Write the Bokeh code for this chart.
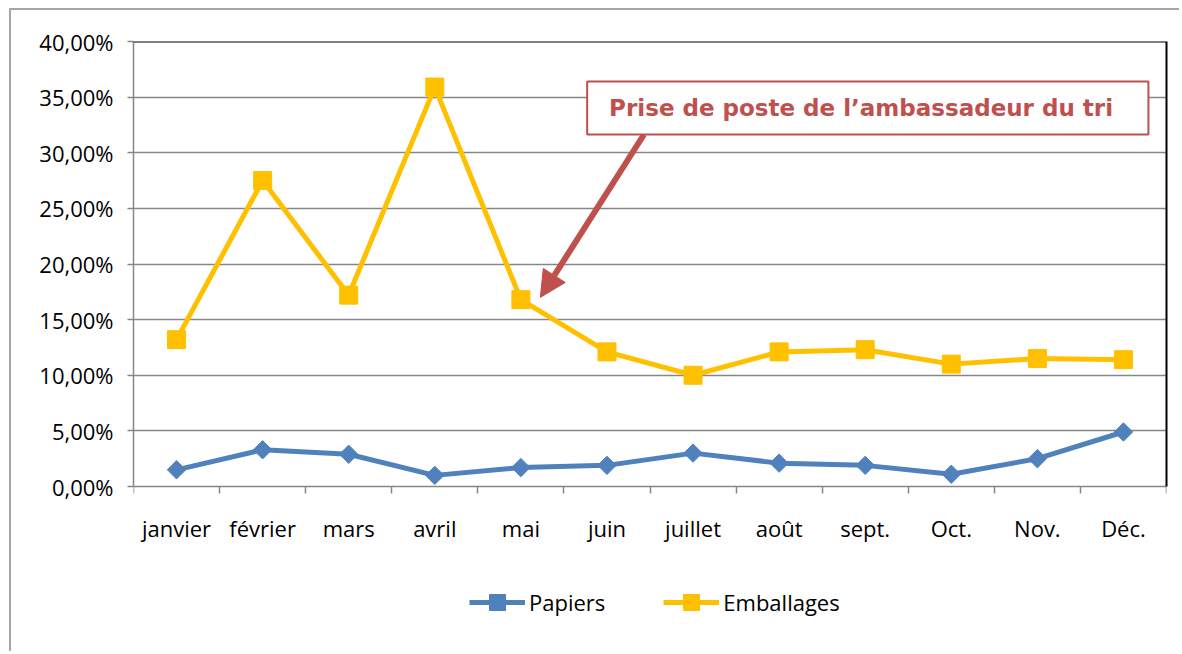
from bokeh.plotting import figure
from bokeh.models import (Range1d, FixedTicker, Span, BoxAnnotation, Label, Arrow,
                          NormalHead, Legend, LegendItem, ColumnDataSource, LinearAxis)
from bokeh.embed import file_html
from bokeh.resources import INLINE

months = ["janvier", "février", "mars", "avril", "mai", "juin", "juillet",
          "août", "sept.", "Oct.", "Nov.", "Déc."]
papiers = [0.015, 0.033, 0.029, 0.010, 0.017, 0.019, 0.030, 0.021, 0.019, 0.011, 0.025, 0.049]
emballages = [0.132, 0.275, 0.172, 0.359, 0.168, 0.121, 0.100, 0.121, 0.123, 0.110, 0.115, 0.114]
y_ticks = [0.0, 0.05, 0.10, 0.15, 0.20, 0.25, 0.30, 0.35, 0.40]
y_tick_labels = ["0,00%", "5,00%", "10,00%", "15,00%", "20,00%", "25,00%",
                 "30,00%", "35,00%", "40,00%"]
annotation_text = "Prise de poste de l\u2019ambassadeur du tri"

BLUE = "#4F81BD"
GOLD = "#FFC000"
RED = "#C0504D"
GRID = "#868686"
FONT = "Open Sans"

# layout (pixels)
W, H = 1170, 643
TOP, BOTTOM, LEFT, RIGHT = 31, 4, 122, 15
PLOT_H = 445  # pixel height of the 0..40% band
frame_h = H - TOP - BOTTOM
y_max = 0.40
y_min = y_max - y_max * frame_h / PLOT_H

xs = [i + 0.5 for i in range(len(months))]
src = ColumnDataSource(dict(x=xs, papiers=papiers, emballages=emballages))

p = figure(width=W, height=H, output_backend="svg", toolbar_location=None,
           x_range=Range1d(0, 12), y_range=Range1d(y_min, y_max),
           min_border_left=LEFT, min_border_right=RIGHT, min_border_top=TOP,
           min_border_bottom=BOTTOM)
p.outline_line_color = None
p.background_fill_color = "white"
p.border_fill_color = "white"
p.styles = {"border-top": "2px solid #a6a6a6", "border-left": "2px solid #a6a6a6",
            "margin-left": "9px", "margin-top": "8px"}

# y axis
p.yaxis.bounds = (0, y_max)
p.yaxis.ticker = FixedTicker(ticks=y_ticks)
p.yaxis.major_label_overrides = {t: l for t, l in zip(y_ticks, y_tick_labels)}
p.yaxis.axis_line_color = GRID
p.yaxis.axis_line_width = 1.5
p.yaxis.major_tick_line_color = GRID
p.yaxis.major_tick_line_width = 1.5
p.yaxis.major_tick_out = 6
p.yaxis.major_tick_in = 0
p.yaxis.minor_tick_line_color = None
p.yaxis.major_label_standoff = 14
p.yaxis.major_label_text_font = FONT
p.yaxis.major_label_text_font_size = "22px"
p.yaxis.major_label_text_color = "black"

# x axis, pinned at 0%
p.xaxis.fixed_location = 0
p.xaxis.ticker = FixedTicker(ticks=xs, minor_ticks=list(range(0, 13)))
p.xaxis.major_label_overrides = {x: m for x, m in zip(xs, months)}
p.xaxis.axis_line_color = GRID
p.xaxis.axis_line_width = 1.5
p.xaxis.major_tick_line_color = None
p.xaxis.minor_tick_line_color = GRID
p.xaxis.minor_tick_line_width = 1.5
p.xaxis.minor_tick_out = 7
p.xaxis.minor_tick_in = 0
p.xaxis.major_label_standoff = 19
p.xaxis.major_label_text_font = FONT
p.xaxis.major_label_text_font_size = "22px"
p.xaxis.major_label_text_color = "black"

p.xgrid.grid_line_color = None
p.ygrid.ticker = FixedTicker(ticks=y_ticks[1:])
p.ygrid.grid_line_color = GRID
p.ygrid.grid_line_width = 1.5

# plot frame: black top and right
p.add_layout(Span(location=y_max, dimension="width", line_color="black", line_width=2))
right_axis = LinearAxis(bounds=(0, y_max), ticker=FixedTicker(ticks=[]),
                        axis_line_color="black", axis_line_width=2,
                        major_tick_line_color=None, minor_tick_line_color=None)
p.add_layout(right_axis, "right")

# series
l_pap = p.line("x", "papiers", source=src, line_color=BLUE, line_width=5)
s_pap = p.scatter("x", "papiers", source=src, marker="square", angle=0.7854, size=13,
                  fill_color=BLUE, line_color=BLUE)
l_emb = p.line("x", "emballages", source=src, line_color=GOLD, line_width=5)
s_emb = p.scatter("x", "emballages", source=src, marker="square", size=18,
                  fill_color=GOLD, line_color=GOLD)

# annotation
p.add_layout(Arrow(end=NormalHead(size=26, fill_color=RED, line_color=RED),
                   x_start=5.93, y_start=0.3164, x_end=4.726, y_end=0.170,
                   line_color=RED, line_width=6))
p.add_layout(BoxAnnotation(left=5.27, right=11.79, bottom=0.3164, top=0.364,
                           fill_color="white", fill_alpha=1.0,
                           line_color=RED, line_width=2, line_alpha=1.0))
p.add_layout(Label(x=5.525, y=0.3402, text=annotation_text, text_font="DejaVu Sans",
                   text_font_style="bold", text_font_size="23px", text_color=RED,
                   text_baseline="middle", text_align="left"))

legend = Legend(items=[LegendItem(label="Papiers", renderers=[l_pap, s_pap]),
                       LegendItem(label="Emballages", renderers=[l_emb, s_emb])],
                orientation="horizontal", location=(336, 27),
                glyph_width=56, glyph_height=40, label_text_font=FONT,
                label_text_font_size="22px", label_text_color="black",
                label_standoff=4, spacing=58,
                padding=0, margin=0, border_line_color=None,
                background_fill_alpha=0)
p.add_layout(legend)

open("out.html", "w").write(file_html(p, INLINE))
